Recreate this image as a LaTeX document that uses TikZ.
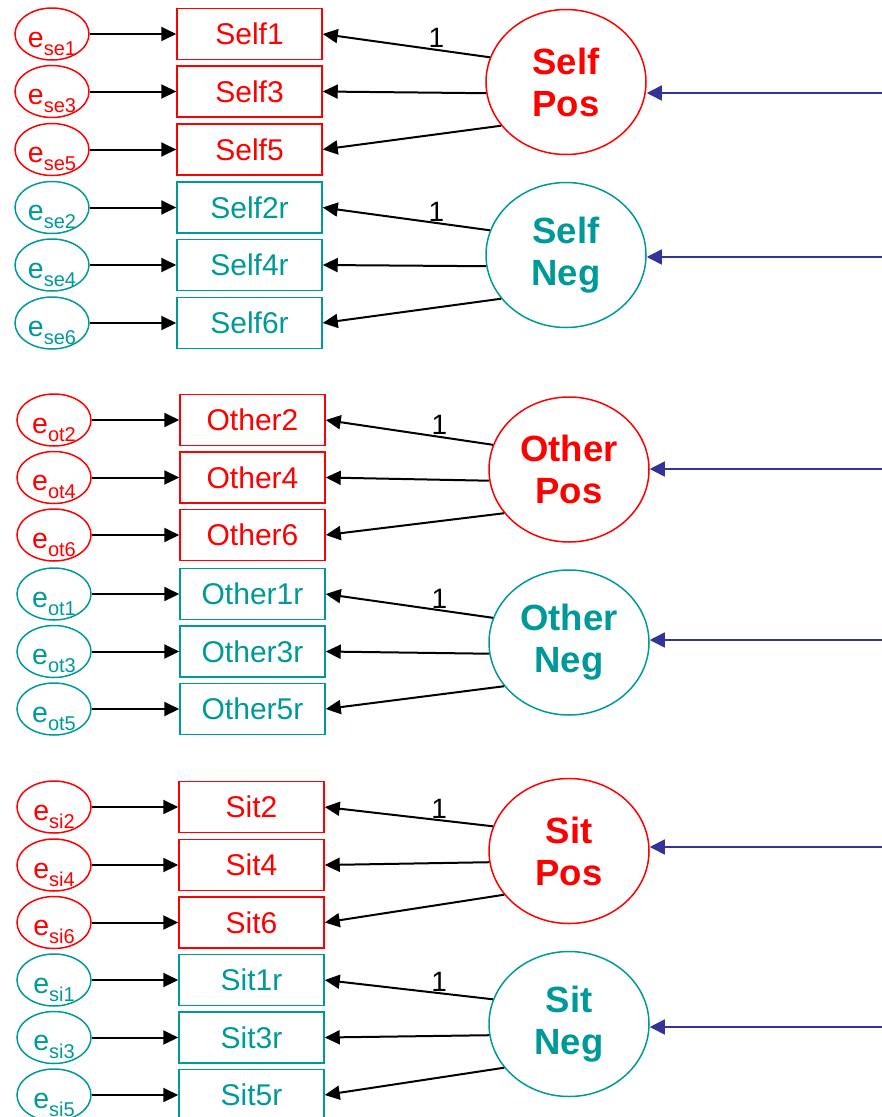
\documentclass[tikz,border=0pt]{standalone}
\usepackage{fontspec}
\setmainfont{Liberation Sans}
\usetikzlibrary{arrows.meta,shapes.geometric}
\definecolor{posred}{RGB}{255,0,0}
\definecolor{negteal}{RGB}{0,153,153}
\definecolor{pathblue}{RGB}{51,51,153}

% one indicator row: error ellipse, its label, the indicator box and the error path
% #1 name, #2 colour style, #3 error x, #4 y, #5 box x, #6 indicator text, #7 error subscript
\newcommand\indrow[7]{%
  \node[errell,#2] (e#1) at (#3,#4) {};
  \node[errtxt,#2] (t#1) at ([yshift=-13pt]e#1.center)
    {e\raisebox{-8pt}{\fontsize{20}{20}\selectfont #7}};
  \node[indbox,#2] (#1) at (#5,#4) {#6};
  \draw[loadarrow] (e#1) -- (#1);
}
% three loadings from a latent factor, the first one fixed to 1
\newcommand\loadings[4]{%
  \draw[loadarrow] (#1.162) -- node[pos=0.32, one, above] (one#1) {1} (#2.east);
  \draw[loadarrow] (#1.188) -- (#3.east);
  \draw[loadarrow] (#1.214) -- (#4.east);
}

\begin{document}
\begin{tikzpicture}[x=1pt,y=-1pt,
  indbox/.style={draw, rectangle, minimum width=145pt, minimum height=51pt,
    inner sep=0pt, line width=1.5pt, font=\fontsize{30}{30}\selectfont},
  errell/.style={draw, ellipse, minimum width=74pt, minimum height=52pt,
    inner sep=0pt, line width=1.5pt},
  errtxt/.style={anchor=base, inner sep=0pt, font=\fontsize{28.5}{28.5}\selectfont},
  latent/.style={draw, ellipse, minimum width=160pt, minimum height=145pt,
    inner sep=0pt, line width=1.5pt, align=center,
    font=\fontsize{36.5}{42}\selectfont\bfseries},
  posc/.style={color=posred},
  negc/.style={color=negteal},
  loadarrow/.style={draw=black, line width=2pt, -{Triangle[length=15pt,width=14pt]}},
  bluearrow/.style={draw=pathblue, line width=1.5pt,
    -{Triangle[length=15pt,width=15pt]}, color=pathblue},
  one/.style={font=\fontsize{28}{28}\selectfont, inner sep=1pt, text=black}
]
\useasboundingbox (0,0) rectangle (882,1117);

% ---------- Self ----------
\indrow{self1}{posc}{52}{34}{249.5}{Self1}{se1}
\indrow{self3}{posc}{52}{91.5}{249.5}{Self3}{se3}
\indrow{self5}{posc}{52}{149.5}{249.5}{Self5}{se5}
\indrow{self2}{negc}{52}{207.5}{249.5}{Self2r}{se2}
\indrow{self4}{negc}{52}{265}{249.5}{Self4r}{se4}
\indrow{self6}{negc}{52}{323}{249.5}{Self6r}{se6}

\node[latent,posc] (selfpos) at (566,82) {Self\\Pos};
\node[latent,negc] (selfneg) at (566,255) {Self\\Neg};
\loadings{selfpos}{self1}{self3}{self5}
\loadings{selfneg}{self2}{self4}{self6}

% ---------- Other ----------
\indrow{other2}{posc}{54}{420}{252.5}{Other2}{ot2}
\indrow{other4}{posc}{54}{477.5}{252.5}{Other4}{ot4}
\indrow{other6}{posc}{54}{535}{252.5}{Other6}{ot6}
\indrow{other1}{negc}{54}{594}{252.5}{Other1r}{ot1}
\indrow{other3}{negc}{54}{651.5}{252.5}{Other3r}{ot3}
\indrow{other5}{negc}{54}{709}{252.5}{Other5r}{ot5}

\node[latent,posc] (otherpos) at (569,469.5) {Other\\Pos};
\node[latent,negc] (otherneg) at (569,642.5) {Other\\Neg};
\loadings{otherpos}{other2}{other4}{other6}
\loadings{otherneg}{other1}{other3}{other5}

% ---------- Sit ----------
\indrow{sit2}{posc}{54}{807}{251.5}{Sit2}{si2}
\indrow{sit4}{posc}{54}{865}{251.5}{Sit4}{si4}
\indrow{sit6}{posc}{54}{922.5}{251.5}{Sit6}{si6}
\indrow{sit1}{negc}{54}{980}{251.5}{Sit1r}{si1}
\indrow{sit3}{negc}{54}{1037.5}{251.5}{Sit3r}{si3}
\indrow{sit5}{negc}{54}{1095}{251.5}{Sit5r}{si5}

\node[latent,posc] (sitpos) at (569,851) {Sit\\Pos};
\node[latent,negc] (sitneg) at (569,1024) {Sit\\Neg};
\loadings{sitpos}{sit2}{sit4}{sit6}
\loadings{sitneg}{sit1}{sit3}{sit5}

% ---------- incoming paths from the right ----------
\coordinate (in1) at (882,93);
\coordinate (in2) at (882,257);
\coordinate (in3) at (882,469);
\coordinate (in4) at (882,640);
\coordinate (in5) at (882,847);
\coordinate (in6) at (882,1027);
\draw[bluearrow] (in1) -- (in1 -| selfpos.east);
\draw[bluearrow] (in2) -- (in2 -| selfneg.east);
\draw[bluearrow] (in3) -- (in3 -| otherpos.east);
\draw[bluearrow] (in4) -- (in4 -| otherneg.east);
\draw[bluearrow] (in5) -- (in5 -| sitpos.east);
\draw[bluearrow] (in6) -- (in6 -| sitneg.east);
\end{tikzpicture}
\end{document}
